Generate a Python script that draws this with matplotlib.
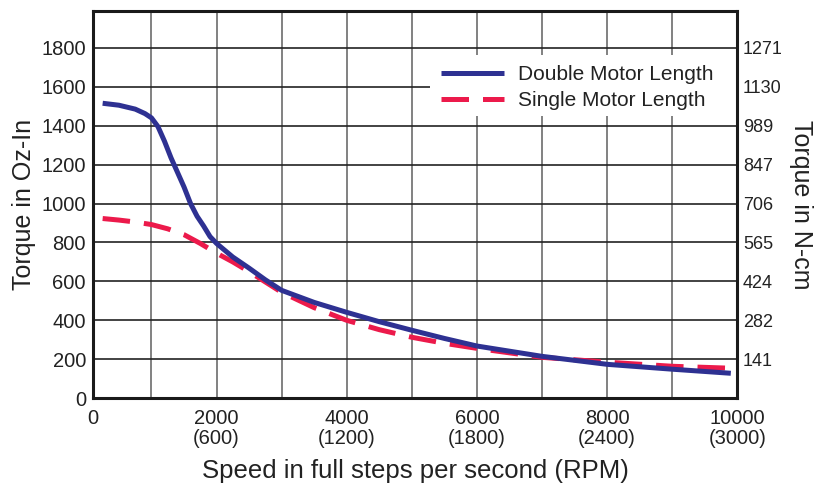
import matplotlib
matplotlib.use('Agg')
import matplotlib.pyplot as plt
from matplotlib.patches import Rectangle

plt.rcParams['font.family'] = ['Liberation Sans', 'DejaVu Sans']

# speed in full steps per second
speed_double = [250, 500, 750, 900, 1000, 1100, 1200, 1300, 1400, 1500, 1600, 1700,
                1800, 1900, 2000, 2250, 2500, 2750, 3000, 3500, 4000, 4500, 5000,
                5500, 6000, 7000, 8000, 9000, 9900]
torque_double = [1515, 1505, 1485, 1462, 1440, 1395, 1320, 1235, 1160, 1085, 1000, 935,
                 885, 830, 795, 725, 668, 608, 554, 492, 441, 393, 349,
                 307, 268, 215, 174, 149, 128]

speed_single = [250, 500, 750, 1000, 1250, 1500, 1750, 2000, 2250, 2500, 2750, 3000,
                3500, 4000, 4500, 5000, 5500, 6000, 7000, 8000, 9000, 9900]
torque_single = [923, 915, 905, 892, 870, 840, 795, 745, 700, 650, 597, 544,
                 465, 400, 352, 313, 282, 256, 210, 185, 164, 154]

x_ticks = [100, 2000, 4000, 6000, 8000, 10000]
x_labels = ['0', '2000\n(600)', '4000\n(1200)', '6000\n(1800)', '8000\n(2400)', '10000\n(3000)']
y_ticks = [0, 200, 400, 600, 800, 1000, 1200, 1400, 1600, 1800]
ncm_ticks = [200, 400, 600, 800, 1000, 1200, 1400, 1600, 1800]
ncm_labels = ['141', '282', '424', '565', '706', '847', '989', '1130', '1271']

blue = '#2e3192'
red = '#ec1a4b'

fig = plt.figure(figsize=(8.22, 4.91), dpi=100)
ax = fig.add_axes([0.113, 0.189, 0.784, 0.789])

ax.plot(speed_double, torque_double, color=blue, lw=3.6, solid_capstyle='butt',
        solid_joinstyle='round', label='Double Motor Length', zorder=4)
ax.plot(speed_single, torque_single, color=red, lw=3.6, dashes=(5.5, 2.8),
        dash_capstyle='butt', label='Single Motor Length', zorder=3)

ax.set_xlim(100, 10000)
ax.set_ylim(0, 1990)

ax.set_xticks(x_ticks)
ax.set_xticklabels(x_labels, fontsize=14.5, linespacing=1.05)
ax.set_xticks(range(1000, 10000, 1000), minor=True)
ax.set_yticks(y_ticks)
ax.set_yticklabels([str(v) for v in y_ticks], fontsize=14.5)
ax.tick_params(axis='both', which='both', length=0)
ax.tick_params(axis='x', pad=8, colors='#222222')
ax.tick_params(axis='y', pad=5, colors='#222222')

ax.grid(True, axis='x', which='both', color='#777777', lw=1.3)
ax.grid(True, axis='y', which='major', color='#222222', lw=1.2)
ax.set_axisbelow(True)
for s in ax.spines.values():
    s.set_linewidth(2.2)
    s.set_color('#1a1a1a')

# white block behind the legend, running to the right axis
ax.add_patch(Rectangle((0.523, 0.729), 0.477, 0.157, transform=ax.transAxes,
                       facecolor='white', edgecolor='none', zorder=1.5))

ax2 = ax.twinx()
ax2.set_ylim(ax.get_ylim())
ax2.set_yticks(ncm_ticks)
ax2.set_yticklabels(ncm_labels, fontsize=13)
ax2.tick_params(axis='y', length=0, pad=4, colors='#222222')
for s in ax2.spines.values():
    s.set_visible(False)

ax.set_xlabel('Speed in full steps per second (RPM)', fontsize=18.5, color='#222222', labelpad=8)
ax.set_ylabel('Torque in Oz-In', fontsize=18, color='#222222', labelpad=4)
ax2.set_ylabel('Torque in N-cm', fontsize=18, color='#222222', rotation=-90, labelpad=22)

leg = ax.legend(loc='upper right', bbox_to_anchor=(0.978, 0.884), fontsize=15,
                frameon=False, borderaxespad=0, handlelength=3.0,
                handletextpad=0.7, labelspacing=0.35, borderpad=0.45)
for t in leg.get_texts():
    t.set_color('#222222')

fig.savefig('out.png', dpi=100)
